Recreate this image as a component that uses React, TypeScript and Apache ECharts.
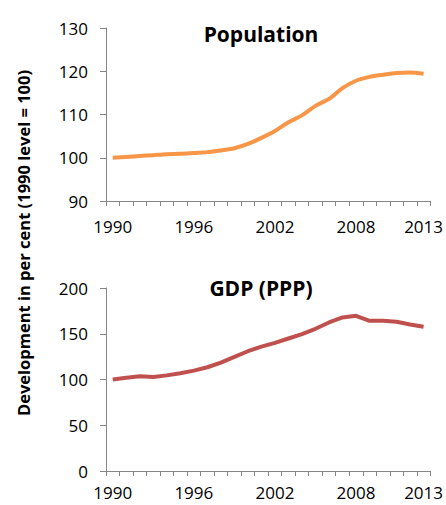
import React, { useEffect, useRef } from "react";
import * as echarts from "echarts";

const years = [
  "1990", "1991", "1992", "1993", "1994", "1995", "1996", "1997", "1998", "1999", "2000", "2001",
  "2002", "2003", "2004", "2005", "2006", "2007", "2008", "2009", "2010", "2011", "2012", "2013",
];
const shownYearIdx = [0, 6, 12, 18, 23];
const population = [
  100, 100.2, 100.4, 100.6, 100.8, 100.9, 101.1, 101.3, 101.7, 102.2, 103.2, 104.6,
  106.2, 108.2, 109.8, 112, 113.6, 116.1, 117.8, 118.7, 119.2, 119.6, 119.7, 119.4,
];
const gdp = [
  100, 102, 103.5, 102.7, 104.5, 106.8, 109.7, 113.4, 118.5, 124.7, 130.9, 136,
  140, 144.8, 149.6, 155.4, 162.3, 167.8, 169.6, 164.2, 164.2, 163.1, 160.1, 157.6,
];
const titles = ["Population", "GDP (PPP)"];
const yAxisTitle = "Development in per cent (1990 level = 100)";

const FONT = "'Open Sans', 'Noto Sans', sans-serif";
const AXIS_COLOR = "#868686";

export default function App() {
  const ref = useRef<HTMLDivElement>(null);
  useEffect(() => {
    if (!ref.current) return;
    const chart = echarts.init(ref.current, null, { renderer: "svg" });
    const xAxisBase = (gridIndex: number, labelMargin: number) => ({
      type: "category" as const,
      gridIndex,
      data: years,
      boundaryGap: true,
      axisLine: { lineStyle: { color: AXIS_COLOR, width: 1 } },
      axisTick: { show: true, length: 5, interval: 0, lineStyle: { color: AXIS_COLOR } },
      axisLabel: {
        interval: (i: number) => shownYearIdx.includes(i),
        color: "#000",
        fontSize: 17,
        fontFamily: FONT,
        margin: labelMargin,
      },
    });
    const yAxisBase = (gridIndex: number, min: number, max: number, interval: number) => ({
      type: "value" as const,
      gridIndex,
      min,
      max,
      interval,
      splitLine: { show: false },
      axisLine: { show: true, lineStyle: { color: AXIS_COLOR, width: 1 } },
      axisTick: { show: true, length: 6, lineStyle: { color: AXIS_COLOR } },
      axisLabel: { color: "#000", fontSize: 17, fontFamily: FONT, margin: 18 },
    });
    chart.setOption({
      animation: false,
      backgroundColor: "#fff",
      title: [
        {
          text: titles[0],
          left: 256,
          top: 18,
          textAlign: "center",
          textStyle: { fontSize: 21, fontWeight: "bold", fontFamily: FONT, color: "#000" },
        },
        {
          text: titles[1],
          left: 256,
          top: 272,
          textAlign: "center",
          textStyle: { fontSize: 21, fontWeight: "bold", fontFamily: FONT, color: "#000" },
        },
      ],
      grid: [
        { left: 106, top: 28, width: 325, height: 173 },
        { left: 106, top: 288, width: 325, height: 183 },
      ],
      xAxis: [xAxisBase(0, 17), xAxisBase(1, 13)],
      yAxis: [yAxisBase(0, 90, 130, 10), yAxisBase(1, 0, 200, 50)],
      series: [
        {
          type: "line",
          xAxisIndex: 0,
          yAxisIndex: 0,
          data: population,
          symbol: "none",
          smooth: 0.3,
          lineStyle: { color: "#F79646", width: 4 },
        },
        {
          type: "line",
          xAxisIndex: 1,
          yAxisIndex: 1,
          data: gdp,
          symbol: "none",
          lineStyle: { color: "#C0504D", width: 4 },
        },
      ],
      graphic: [
        {
          type: "text",
          x: 23,
          y: 243,
          rotation: Math.PI / 2,
          style: {
            text: yAxisTitle,
            fontSize: 16.5,
            fontWeight: "bold",
            fontFamily: FONT,
            fill: "#000",
            align: "center",
            verticalAlign: "middle",
          },
        },
      ],
    });
    return () => chart.dispose();
  }, []);
  return (
    <div
      ref={ref}
      style={{ position: "fixed", left: 0, top: 0, width: 446, height: 505 }}
    />
  );
}
